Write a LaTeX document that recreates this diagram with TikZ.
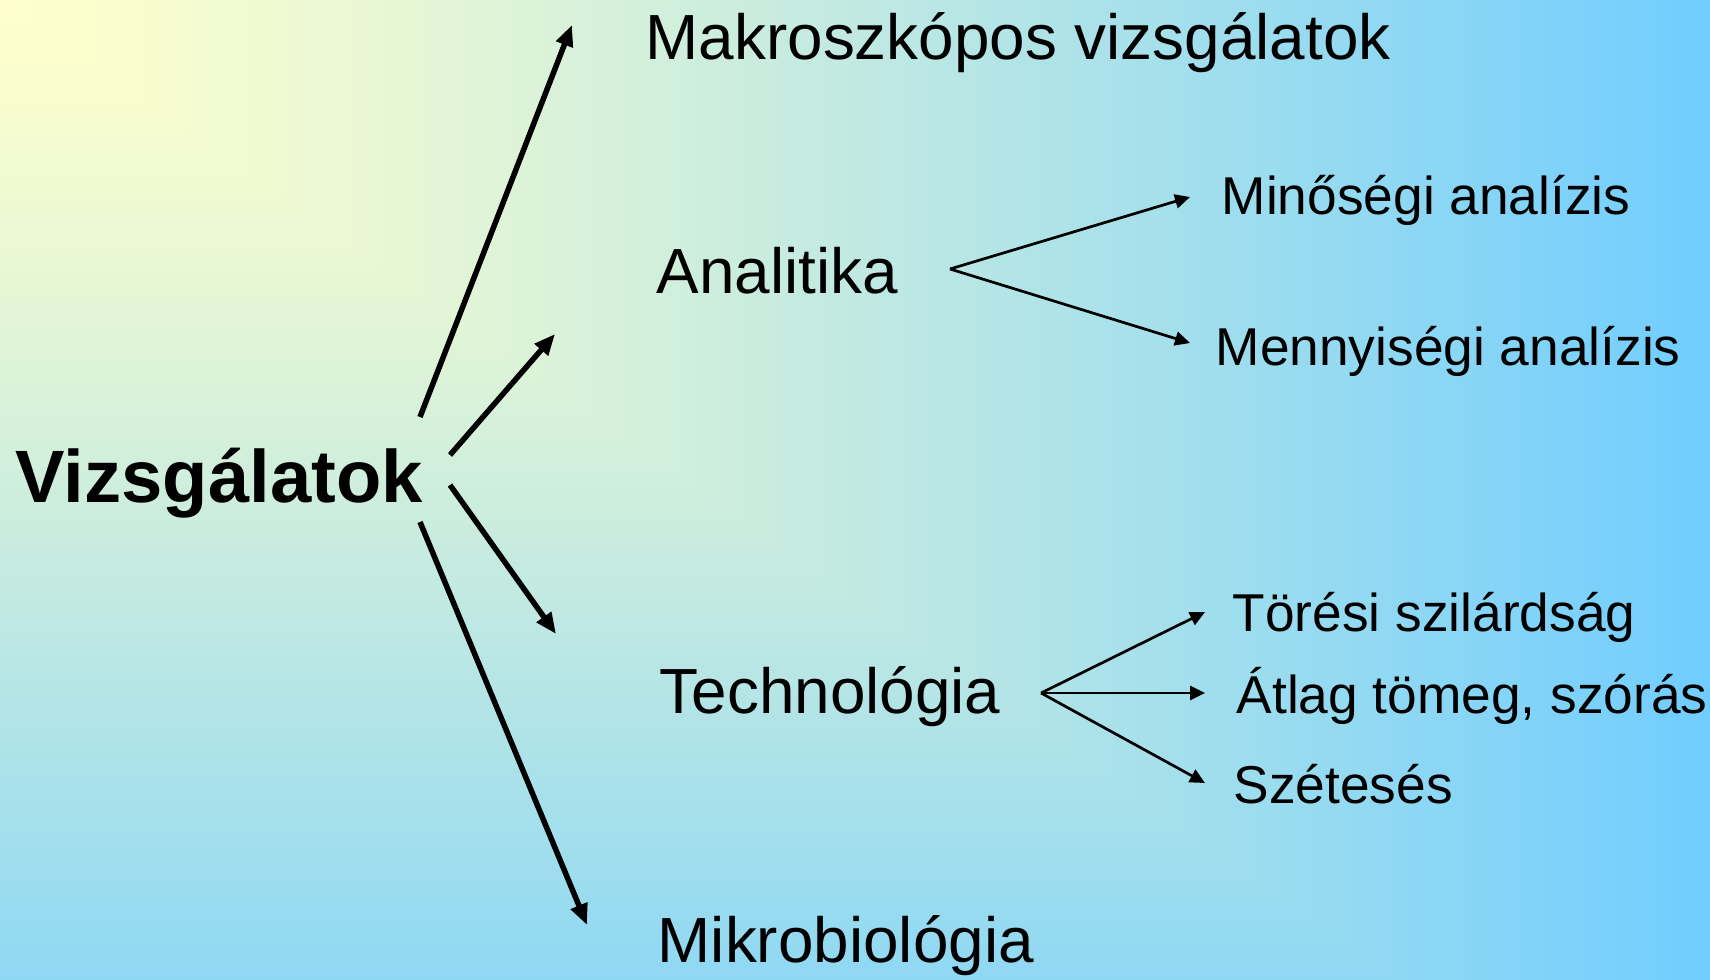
\documentclass[tikz,border=0pt]{standalone}
\usepackage{fontspec}
\setmainfont{Liberation Sans}
\usetikzlibrary{%
	arrows.meta,%
	positioning,%
}

% background: from the top left corner, yellow into blue
\pgfdeclarefunctionalshading{bgshade}{\pgfpointorigin}{\pgfpoint{17.1cm}{9.79cm}}{}{%
	exch 484.72 div
	exch 277.51 exch sub 340.16 div
	2 copy lt {exch} if pop
	dup 1 gt {pop 1} if
	dup 0 lt {pop 0} if
	1.2 exp
	dup -0.561 mul 1 add
	exch dup -0.196 mul 1 add
	exch 0.196 mul 0.8 add
}

\tikzset{
	>={Triangle[length=0.21cm, width=0.17cm]},%
	rootnode/.style={%
			inner sep=0,%
			anchor=base west,%
			font={\fontsize{21.1}{25}\selectfont\bfseries}},%
	topicnode/.style={%
			inner sep=0,%
			anchor=base west,%
			font={\fontsize{18.15}{22}\selectfont}},%
	subtopicnode/.style={%
			inner sep=0,%
			anchor=base west,%
			font={\fontsize{15.15}{18}\selectfont}},%
	mainarrow/.style={%
			->,%
			line width=0.055cm},%
	subarrow/.style={%
			-{Triangle[length=0.15cm, width=0.14cm]},%
			line width=0.027cm},%
}

\begin{document}
\begin{tikzpicture}[x=0.01cm, y=-0.01cm]%
	\useasboundingbox (0,0) rectangle (1710,979);
	\node[inner sep=0, outer sep=0, anchor=north west] (bg) at (0,0) {\pgfuseshading{bgshade}};

	\node[rootnode] (vizsg) at (15,502) {Vizsgálatok};

	\node[topicnode] (makro) at (645,60) {Makroszkópos vizsgálatok};
	\node[topicnode] (anal) at (656,293) {Analitika};
	\node[topicnode] (techn) at (659,713) {Technológia};
	\node[topicnode] (mikro) at (657,962) {Mikrobiológia};

	\node[subtopicnode] (minos) at (1221,215) {Minőségi analízis};
	\node[subtopicnode] (menny) at (1215,365) {Mennyiségi analízis};
	\node[subtopicnode] (toresi) at (1232,631) {Törési szilárdság};
	\node[subtopicnode] (atlag) at (1236,713) {Átlag tömeg, szórás};
	\node[subtopicnode] (szetes) at (1233,803) {Szétesés};

	\coordinate (makro-tail) at (420,417);
	\coordinate (makro-tip) at (572,25);
	\coordinate (anal-tail) at (450,455);
	\coordinate (anal-tip) at (555,334);
	\coordinate (techn-tail) at (450,485);
	\coordinate (techn-tip) at (556,634);
	\coordinate (mikro-tail) at (420,522);
	\coordinate (mikro-tip) at (587,925);

	\coordinate (anal-fork) at (950,269);
	\coordinate (minos-tip) at (1190,197);
	\coordinate (menny-tip) at (1190,343);
	\coordinate (techn-fork) at (1041,693);
	\coordinate (toresi-tip) at (1205,612);
	\coordinate (atlag-tip) at (1205,693);
	\coordinate (szetes-tip) at (1205,783);

	\draw[mainarrow] (makro-tail) to (makro-tip);
	\draw[mainarrow] (anal-tail) to (anal-tip);
	\draw[mainarrow] (techn-tail) to (techn-tip);
	\draw[mainarrow] (mikro-tail) to (mikro-tip);

	\draw[subarrow] (anal-fork) to (minos-tip);
	\draw[subarrow] (anal-fork) to (menny-tip);
	\draw[subarrow] (techn-fork) to (toresi-tip);
	\draw[subarrow] (techn-fork) to (atlag-tip);
	\draw[subarrow] (techn-fork) to (szetes-tip);
\end{tikzpicture}
\end{document}
